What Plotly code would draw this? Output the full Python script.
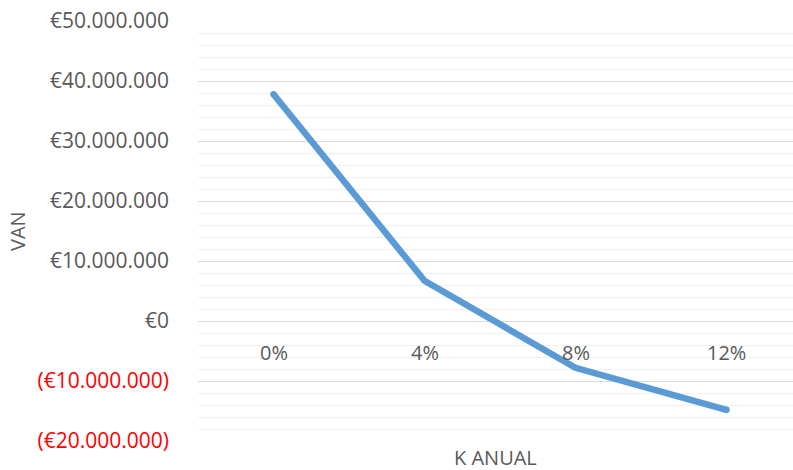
import plotly.graph_objects as go

# Net present value (VAN) at different annual discount rates
categories = ["0%", "4%", "8%", "12%"]
van_values = [37_800_000, 6_700_000, -7_800_000, -14_800_000]

y_ticks = [50_000_000, 40_000_000, 30_000_000, 20_000_000, 10_000_000, 0,
           -10_000_000, -20_000_000]


def euro_label(v):
    s = "{:,.0f}".format(abs(v)).replace(",", ".")
    if v < 0:
        return "<span style='color:#FF0000'>(€" + s + ")</span>"
    return "€" + s


FONT = "'Open Sans', sans-serif"
GREY = "#595959"

W, H = 793, 470
M_L, M_R, M_T, M_B = 198, 0, 21, 29

x_idx = list(range(len(categories)))

fig = go.Figure()
fig.add_trace(go.Scatter(
    x=x_idx, y=van_values, mode="lines",
    line=dict(color="#5B9BD5", width=6.5),
    hoverinfo="skip",
))
# rounded line ends
fig.add_trace(go.Scatter(
    x=[x_idx[0], x_idx[-1]], y=[van_values[0], van_values[-1]], mode="markers",
    marker=dict(color="#5B9BD5", size=6.5, line=dict(width=0)),
    hoverinfo="skip",
))

# category labels sit just under the zero line
annotations = []
for i, c in zip(x_idx, categories):
    annotations.append(dict(
        x=i, y=0, xref="x", yref="y", text=c, showarrow=False,
        yshift=-31, font=dict(family=FONT, size=20, color=GREY),
    ))

plot_w = W - M_L - M_R
plot_h = H - M_T - M_B
annotations.append(dict(
    x=(17 - M_L) / plot_w, y=0.5, xref="paper", yref="paper", text="VAN",
    textangle=-90, showarrow=False, xanchor="center", yanchor="middle",
    font=dict(family=FONT, size=20, color=GREY),
))
annotations.append(dict(
    x=0.5, y=-(457 - (H - M_B)) / plot_h, xref="paper", yref="paper",
    text="K ANUAL", showarrow=False, xanchor="center", yanchor="middle",
    font=dict(family=FONT, size=20, color=GREY),
))

fig.update_layout(
    width=W, height=H,
    margin=dict(l=M_L, r=M_R, t=M_T, b=M_B, pad=0),
    paper_bgcolor="white", plot_bgcolor="white",
    showlegend=False,
    annotations=annotations,
    xaxis=dict(
        range=[-0.5, (W - M_L) / 151 - 0.5],
        showgrid=False, zeroline=False, showline=False,
        showticklabels=False, ticks="",
    ),
    yaxis=dict(
        range=[-20_000_000, 50_000_000],
        tickvals=y_ticks,
        ticktext=[euro_label(v) for v in y_ticks],
        tickfont=dict(family=FONT, size=21, color=GREY),
        ticklabelstandoff=28,
        showgrid=True, gridcolor="#D9D9D9", gridwidth=1,
        zeroline=False, showline=False, ticks="",
        minor=dict(dtick=2_000_000, tick0=0, showgrid=True,
                   gridcolor="#F0F0F0", gridwidth=1, ticks=""),
    ),
)

fig.write_html("out.html")
